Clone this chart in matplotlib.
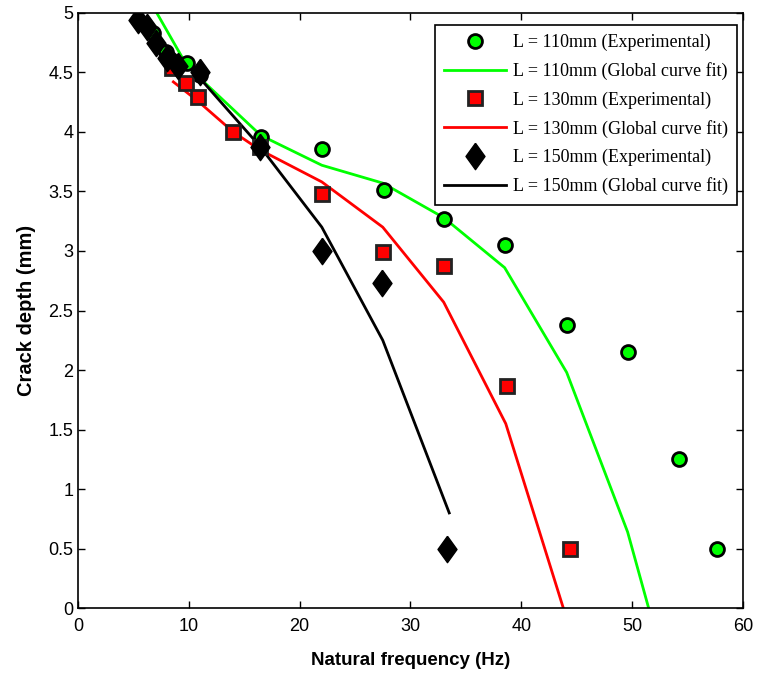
import matplotlib.pyplot as plt

# L = 110 mm
f110_exp = [6.8, 7.9, 9.8, 11.0, 16.5, 22.0, 27.6, 33.0, 38.5, 44.1, 49.6, 54.2, 57.7]
d110_exp = [4.83, 4.67, 4.58, 4.48, 3.96, 3.86, 3.51, 3.27, 3.05, 2.38, 2.15, 1.25, 0.50]
f110_fit = [7.1, 9.8, 11.0, 16.5, 22.0, 27.5, 33.0, 38.5, 44.1, 49.6, 51.5]
d110_fit = [5.0, 4.56, 4.45, 3.97, 3.72, 3.57, 3.28, 2.86, 1.98, 0.64, 0.0]

# L = 130 mm
f130_exp = [8.5, 9.7, 10.8, 14.0, 16.4, 22.0, 27.5, 33.0, 38.7, 44.4]
d130_exp = [4.54, 4.41, 4.29, 4.00, 3.87, 3.48, 2.99, 2.87, 1.87, 0.50]
f130_fit = [8.6, 10.8, 14.0, 16.4, 22.0, 27.5, 33.0, 38.6, 43.8]
d130_fit = [4.42, 4.26, 4.00, 3.85, 3.58, 3.20, 2.57, 1.55, 0.0]

# L = 150 mm
f150_exp = [5.4, 6.2, 7.0, 8.0, 9.0, 11.0, 16.4, 22.0, 27.4, 33.3]
d150_exp = [4.94, 4.88, 4.75, 4.62, 4.55, 4.50, 3.87, 3.00, 2.73, 0.50]
f150_fit = [5.4, 11.0, 16.4, 22.0, 27.5, 33.5]
d150_fit = [4.95, 4.45, 3.88, 3.20, 2.25, 0.80]

plt.rcParams['font.family'] = ['Liberation Sans', 'DejaVu Sans']

# slightly tall diamond marker
diamond = [(0, 1), (0.72, 0), (0, -1), (-0.72, 0), (0, 1)]

fig = plt.figure(figsize=(7.58, 6.75), dpi=100)
ax = fig.add_axes([0.103, 0.099, 0.877, 0.882])

ax.plot(f110_exp, d110_exp, 'o', color='#00ff00', markeredgecolor='black',
        markeredgewidth=2, markersize=10, linestyle='none',
        label='L = 110mm (Experimental)', zorder=3)
ax.plot(f110_fit, d110_fit, '-', color='#00ff00', linewidth=2,
        label='L = 110mm (Global curve fit)', zorder=2)
ax.plot(f130_exp, d130_exp, 's', color='red', markeredgecolor='#222222',
        markeredgewidth=2, markersize=10.5, linestyle='none',
        label='L = 130mm (Experimental)', zorder=3)
ax.plot(f130_fit, d130_fit, '-', color='red', linewidth=2,
        label='L = 130mm (Global curve fit)', zorder=2)
ax.plot(f150_exp, d150_exp, marker=diamond, color='black', markeredgecolor='black',
        markersize=19, linestyle='none',
        label='L = 150mm (Experimental)', zorder=3)
ax.plot(f150_fit, d150_fit, '-', color='black', linewidth=2,
        label='L = 150mm (Global curve fit)', zorder=2)

ax.set_xlim(0, 60)
ax.set_ylim(0, 5)
ax.set_xticks(range(0, 61, 10))
ax.set_yticks([0, 0.5, 1, 1.5, 2, 2.5, 3, 3.5, 4, 4.5, 5])
ax.set_yticklabels(['0', '0.5', '1', '1.5', '2', '2.5', '3', '3.5', '4', '4.5', '5'])
ax.tick_params(direction='in', top=True, right=True, labelsize=13, length=5, width=1)
ax.tick_params(axis='x', pad=7)
for s in ax.spines.values():
    s.set_linewidth(1.2)

ax.set_xlabel('Natural frequency (Hz)', fontsize=13.5, fontweight='bold', labelpad=12)
ax.set_ylabel('Crack depth (mm)', fontsize=14.5, fontweight='bold', labelpad=9)

leg = ax.legend(loc='upper right', bbox_to_anchor=(0.991, 0.98), borderaxespad=0,
                prop={'family': 'Liberation Serif', 'size': 13},
                fancybox=False, edgecolor='black', framealpha=1,
                borderpad=0.5, labelspacing=0.62, handlelength=3.4,
                handletextpad=0.4, numpoints=1)
leg.get_frame().set_linewidth(1.2)

fig.savefig('out.png', dpi=100)
